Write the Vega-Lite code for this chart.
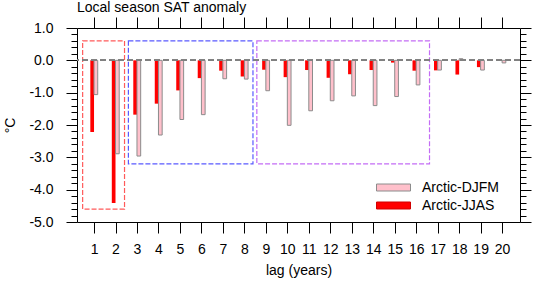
{
  "$schema": "https://vega.github.io/schema/vega-lite/v6.json",
  "width": 443,
  "height": 194,
  "autosize": "none",
  "padding": {"left": 77, "top": 28, "right": 13, "bottom": 60},
  "background": "white",
  "config": {
    "view": {"stroke": null},
    "font": "Liberation Sans",
    "axis": {
      "grid": false,
      "domainColor": "#000000",
      "tickColor": "#000000",
      "labelColor": "#000000",
      "titleColor": "#000000",
      "labelFont": "Liberation Sans",
      "titleFont": "Liberation Sans",
      "labelFontSize": 14,
      "titleFontSize": 14,
      "titleFontWeight": "normal",
      "domainWidth": 1,
      "tickWidth": 1
    },
    "legend": {"labelFont": "Liberation Sans", "labelFontSize": 14, "labelColor": "#000000"}
  },
  "title": {
    "text": "Local season SAT anomaly",
    "anchor": "start",
    "frame": "group",
    "font": "Liberation Sans",
    "fontSize": 14,
    "fontWeight": "normal",
    "color": "#000000",
    "offset": 2
  },
  "data": {
    "values": [
      {"lag": 1, "series": "Arctic-JJAS", "value": -2.22},
      {"lag": 1, "series": "Arctic-DJFM", "value": -1.06},
      {"lag": 2, "series": "Arctic-JJAS", "value": -4.41},
      {"lag": 2, "series": "Arctic-DJFM", "value": -2.89},
      {"lag": 3, "series": "Arctic-JJAS", "value": -1.68},
      {"lag": 3, "series": "Arctic-DJFM", "value": -2.96},
      {"lag": 4, "series": "Arctic-JJAS", "value": -1.34},
      {"lag": 4, "series": "Arctic-DJFM", "value": -2.31},
      {"lag": 5, "series": "Arctic-JJAS", "value": -0.93},
      {"lag": 5, "series": "Arctic-DJFM", "value": -1.83},
      {"lag": 6, "series": "Arctic-JJAS", "value": -0.55},
      {"lag": 6, "series": "Arctic-DJFM", "value": -1.68},
      {"lag": 7, "series": "Arctic-JJAS", "value": -0.32},
      {"lag": 7, "series": "Arctic-DJFM", "value": -0.57},
      {"lag": 8, "series": "Arctic-JJAS", "value": -0.50},
      {"lag": 8, "series": "Arctic-DJFM", "value": -0.58},
      {"lag": 9, "series": "Arctic-JJAS", "value": -0.29},
      {"lag": 9, "series": "Arctic-DJFM", "value": -0.94},
      {"lag": 10, "series": "Arctic-JJAS", "value": -0.52},
      {"lag": 10, "series": "Arctic-DJFM", "value": -2.01},
      {"lag": 11, "series": "Arctic-JJAS", "value": -0.30},
      {"lag": 11, "series": "Arctic-DJFM", "value": -1.56},
      {"lag": 12, "series": "Arctic-JJAS", "value": -0.54},
      {"lag": 12, "series": "Arctic-DJFM", "value": -1.25},
      {"lag": 13, "series": "Arctic-JJAS", "value": -0.43},
      {"lag": 13, "series": "Arctic-DJFM", "value": -1.10},
      {"lag": 14, "series": "Arctic-JJAS", "value": -0.30},
      {"lag": 14, "series": "Arctic-DJFM", "value": -1.40},
      {"lag": 15, "series": "Arctic-JJAS", "value": -0.07},
      {"lag": 15, "series": "Arctic-DJFM", "value": -1.12},
      {"lag": 16, "series": "Arctic-JJAS", "value": -0.32},
      {"lag": 16, "series": "Arctic-DJFM", "value": -0.76},
      {"lag": 17, "series": "Arctic-JJAS", "value": -0.31},
      {"lag": 17, "series": "Arctic-DJFM", "value": -0.30},
      {"lag": 18, "series": "Arctic-JJAS", "value": -0.44},
      {"lag": 18, "series": "Arctic-DJFM", "value": 0.05},
      {"lag": 19, "series": "Arctic-JJAS", "value": -0.21},
      {"lag": 19, "series": "Arctic-DJFM", "value": -0.30},
      {"lag": 20, "series": "Arctic-JJAS", "value": -0.02},
      {"lag": 20, "series": "Arctic-DJFM", "value": -0.08}
    ]
  },
  "layer": [
    {
      "data": {
        "values": [
          {"region": "lags 1-2", "x1": 0.47, "x2": 2.42, "top": 0.6, "bottom": -4.6},
          {"region": "lags 3-8", "x1": 2.6, "x2": 8.4, "top": 0.6, "bottom": -3.2},
          {"region": "lags 9-16", "x1": 8.58, "x2": 16.62, "top": 0.6, "bottom": -3.2}
        ]
      },
      "mark": {"type": "rect", "filled": false, "strokeDash": [5, 2], "strokeWidth": 1.2},
      "encoding": {
        "x": {
          "field": "x1",
          "type": "quantitative",
          "scale": {"domain": [0.44, 20.6], "nice": false, "zero": false},
          "axis": {
            "orient": "bottom",
            "values": [1,2,3,4,5,6,7,8,9,10,11,12,13,14,15,16,17,18,19,20],
            "format": "d",
            "tickSize": 11,
            "labelPadding": 9,
            "labelFlush": false,
            "labelOverlap": false,
            "title": "lag (years)",
            "titlePadding": 7
          }
        },
        "x2": {"field": "x2"},
        "y": {
          "field": "top",
          "type": "quantitative",
          "scale": {"domain": [-5, 1], "nice": false, "zero": false},
          "axis": {
            "orient": "left",
            "values": [-5, -4, -3, -2, -1, 0, 1],
            "labelExpr": "replace(format(datum.value, '.1f'), '\u2212', '-')",
            "tickSize": 11,
            "labelPadding": 13,
            "labelFlush": false,
            "labelOverlap": false,
            "title": "°C",
            "titlePadding": 11
          }
        },
        "y2": {"field": "bottom"},
        "stroke": {
          "field": "region",
          "type": "nominal",
          "scale": {"domain": ["lags 1-2", "lags 3-8", "lags 9-16"], "range": ["#ff5a5a", "#5a5aff", "#c46cf5"]},
          "legend": null
        }
      }
    },
    {
      "transform": [{"filter": "datum.series === 'Arctic-JJAS'"}],
      "mark": {"type": "bar", "width": 3.7, "xOffset": -1.85},
      "encoding": {
        "x": {
          "field": "lag",
          "type": "quantitative",
          "axis": {
            "orient": "top",
            "values": [1,2,3,4,5,6,7,8,9,10,11,12,13,14,15,16,17,18,19,20],
            "labels": false,
            "tickSize": 11,
            "title": null
          }
        },
        "y": {
          "field": "value",
          "type": "quantitative",
          "axis": {
            "orient": "left",
            "values": [-4.8,-4.6,-4.4,-4.2,-3.8,-3.6,-3.4,-3.2,-2.8,-2.6,-2.4,-2.2,-1.8,-1.6,-1.4,-1.2,-0.8,-0.6,-0.4,-0.2,0.2,0.4,0.6,0.8],
            "labels": false,
            "domain": false,
            "tickSize": 6,
            "title": null
          }
        },
        "color": {
          "field": "series",
          "type": "nominal",
          "scale": {"domain": ["Arctic-DJFM", "Arctic-JJAS"], "range": ["#ffc0cb", "#ff0000"]},
          "legend": {
            "title": null,
            "orient": "none",
            "legendX": 306,
            "legendY": 149,
            "symbolType": "M-1.7,-0.35H1.7V0.35H-1.7Z",
            "symbolSize": 400,
            "symbolOpacity": 1,
            "rowPadding": 0,
            "labelOffset": 18,
            "padding": 0,
            "encode": {
              "symbols": {
                "update": {
                  "stroke": {"signal": "datum.value === 'Arctic-JJAS' ? '#d00000' : '#8c8c8c'"},
                  "strokeWidth": {"value": 1}
                }
              }
            }
          }
        }
      }
    },
    {
      "transform": [{"filter": "datum.series === 'Arctic-DJFM'"}],
      "mark": {"type": "bar", "width": 3.7, "xOffset": 1.85, "stroke": "#8c8c8c", "strokeWidth": 1},
      "encoding": {
        "x": {"field": "lag", "type": "quantitative", "axis": null},
        "y": {
          "field": "value",
          "type": "quantitative",
          "axis": {
            "orient": "right",
            "values": [-4.8,-4.6,-4.4,-4.2,-3.8,-3.6,-3.4,-3.2,-2.8,-2.6,-2.4,-2.2,-1.8,-1.6,-1.4,-1.2,-0.8,-0.6,-0.4,-0.2,0.2,0.4,0.6,0.8],
            "labels": false,
            "domain": false,
            "tickSize": 6,
            "title": null
          }
        },
        "color": {"field": "series", "type": "nominal"}
      }
    },
    {
      "mark": {"type": "rule", "color": "#808080", "strokeDash": [6, 3], "strokeWidth": 1},
      "encoding": {
        "y": {
          "datum": 0,
          "type": "quantitative",
          "axis": {
            "orient": "right",
            "values": [-5, -4, -3, -2, -1, 0, 1],
            "labels": false,
            "tickSize": 11,
            "title": null
          }
        }
      }
    }
  ],
  "resolve": {"axis": {"x": "independent", "y": "independent"}}
}
